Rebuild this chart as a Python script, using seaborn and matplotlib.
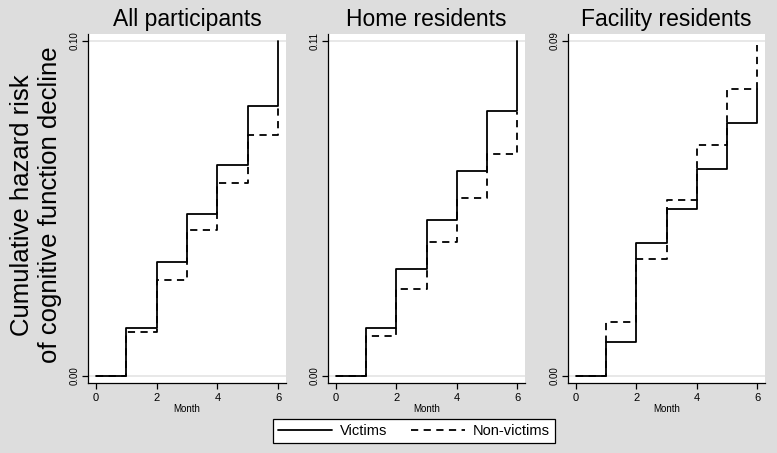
import pandas as pd
import matplotlib.pyplot as plt
import seaborn as sns
from matplotlib.lines import Line2D

# --- data (cumulative hazard by month) ---
months = [0, 1, 2, 3, 4, 5, 6]
panels = ['All participants', 'Home residents', 'Facility residents']
ymax = [0.10, 0.11, 0.09]

all_victims = [0, 0.0142, 0.0341, 0.0484, 0.0630, 0.0806, 0.100]
all_nonvictims = [0, 0.0130, 0.0287, 0.0436, 0.0577, 0.0720, 0.0803]
home_victims = [0, 0.0159, 0.0350, 0.0512, 0.0672, 0.0871, 0.110]
home_nonvictims = [0, 0.0131, 0.0287, 0.0439, 0.0584, 0.0729, 0.0866]
fac_victims = [0, 0.0092, 0.0356, 0.0448, 0.0555, 0.0681, 0.0770]
fac_nonvictims = [0, 0.0144, 0.0314, 0.0473, 0.0621, 0.0770, 0.0889]

series = {
    'All participants': (all_victims, all_nonvictims),
    'Home residents': (home_victims, home_nonvictims),
    'Facility residents': (fac_victims, fac_nonvictims),
}

rows = []
for p, (vic, non) in series.items():
    for m, v in zip(months, vic):
        rows.append({'panel': p, 'group': 'Victims', 'month': m, 'hazard': v})
    for m, v in zip(months, non):
        rows.append({'panel': p, 'group': 'Non-victims', 'month': m, 'hazard': v})
df = pd.DataFrame(rows)

sns.set_style('white')
plt.rcParams['font.family'] = ['Liberation Sans', 'DejaVu Sans']
plt.rcParams['text.color'] = 'black'
plt.rcParams['axes.labelcolor'] = 'black'
plt.rcParams['xtick.color'] = 'black'
plt.rcParams['ytick.color'] = 'black'

bg = '#dddddd'
fig = plt.figure(figsize=(7.77, 4.53), dpi=100, facecolor=bg)

lefts = [88, 328, 568]
widths = [198, 197, 197]
dash = (4, 3)

for i, p in enumerate(panels):
    ax = fig.add_axes([lefts[i] / 777, 70 / 453, widths[i] / 777, 349 / 453])
    ax.set_facecolor('white')
    top = ymax[i]
    # faint gridlines at the two labelled values
    for g in (0, top):
        ax.axhline(g, color='#e6e6e6', lw=1.3, zorder=0)
    sns.lineplot(data=df[df['panel'] == p], x='month', y='hazard',
                 style='group', dashes={'Victims': '', 'Non-victims': dash},
                 color='black', lw=1.3, drawstyle='steps-post',
                 estimator=None, errorbar=None, legend=False, ax=ax)
    ax.set_xlim(-0.26, 6.26)
    ax.set_ylim(-0.0209 * top, 1.0209 * top)
    ax.set_xticks([0, 2, 4, 6])
    ax.set_yticks([0, top])
    ax.set_yticklabels(['0.00', f'{top:.2f}'], rotation=90, va='center', fontsize=7)
    ax.tick_params(axis='x', bottom=True, labelsize=8, length=4, width=0.9,
                   pad=3, direction='out')
    ax.tick_params(axis='y', left=True, length=4, width=0.9, pad=2, direction='out')
    ax.set_xlabel('Month', fontsize=7, labelpad=1)
    ax.set_ylabel('')
    ax.set_title(p, fontsize=16.5, pad=5.5, color='black')
    for s in ['top', 'right']:
        ax.spines[s].set_visible(False)
    for s in ['left', 'bottom']:
        ax.spines[s].set_color('black')
        ax.spines[s].set_linewidth(0.9)

fig.text(36 / 777, 1 - 205 / 453,
         'Cumulative hazard risk\nof cognitive function decline',
         rotation=90, ha='center', va='center', multialignment='center',
         fontsize=18.5, linespacing=1.25, color='black')

handles = [Line2D([], [], color='black', lw=1.3),
           Line2D([], [], color='black', lw=1.3, linestyle=(0, dash))]
leg = fig.legend(handles, ['Victims', 'Non-victims'], loc='center',
                 bbox_to_anchor=(414 / 777, 1 - 431 / 453), ncol=2,
                 fontsize=10.5, frameon=True, fancybox=False,
                 handlelength=3.7, handletextpad=0.55, columnspacing=1.6,
                 borderpad=0.35, borderaxespad=0)
leg.get_frame().set_edgecolor('black')
leg.get_frame().set_linewidth(0.9)
leg.get_frame().set_facecolor('white')
leg.get_frame().set_alpha(1)

plt.savefig('out.png', dpi=100, facecolor=bg)
